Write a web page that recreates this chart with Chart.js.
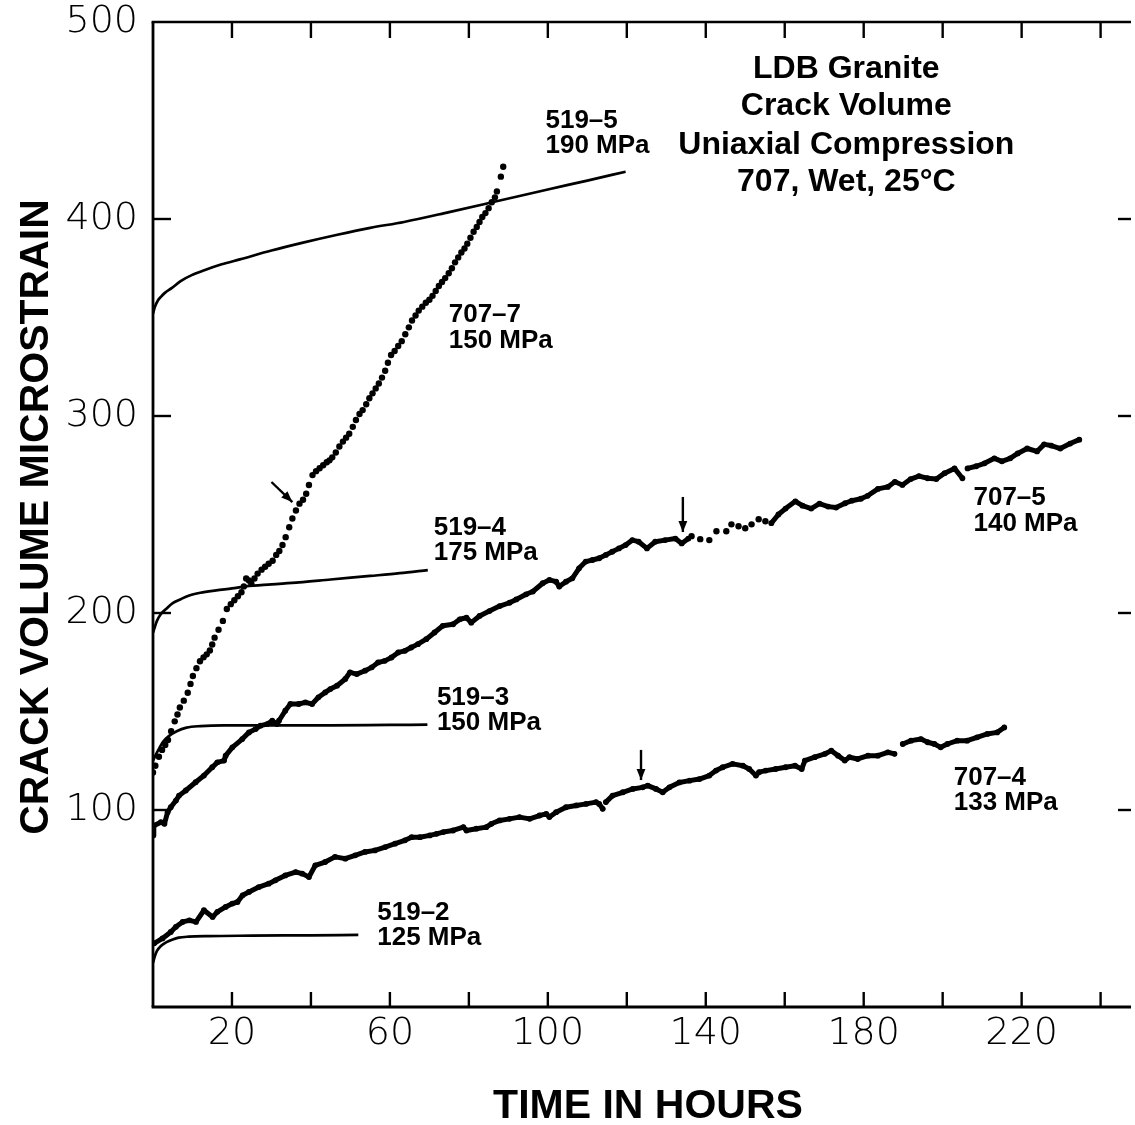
<!DOCTYPE html>
<html>
<head>
<meta charset="utf-8">
<title>LDB Granite Crack Volume</title>
<script src="https://cdn.jsdelivr.net/npm/chart.js@4.4.1/dist/chart.umd.min.js"></script>
<style>
  html, body { margin: 0; padding: 0; background: #fff; overflow: hidden; }
  canvas { display: block; }
</style>
</head>
<body>
<canvas id="chart" width="1135" height="1125"></canvas>
<script>
// ---- axes ----
const hourTicks = [20, 40, 60, 80, 100, 120, 140, 160, 180, 200, 220, 240];
const hourTickLabels = ['20', '60', '100', '140', '180', '220'];
const strainTicks = [100, 200, 300, 400, 500];

// ---- 519 series: fitted creep curves (hours, microstrain) ----
const s5195Hours  = [0, 0.5, 1.2, 2, 3, 4.8, 7, 9.8, 13, 17.4, 22, 30, 38, 46.7, 55, 63.6, 75, 87, 100, 110, 119.7];
const s5195Strain = [352, 355.5, 358.5, 360.5, 362.5, 365, 368.5, 371.5, 374, 377, 379.5, 384, 388, 392, 395.5, 398.5, 403.5, 409, 415, 419.5, 424];

const s5194Hours  = [0, 0.4, 1, 2, 3.3, 5, 7, 9, 12, 16, 20, 23.5, 30, 37, 45, 55, 62.5, 69.6];
const s5194Strain = [190, 192.5, 196, 199.5, 202, 205, 207, 208.8, 210.3, 211.5, 212.5, 213.5, 214.5, 215.5, 217, 218.8, 220.2, 221.8];

const s5193Hours  = [0, 0.7, 1.5, 2.5, 4, 6, 8.5, 12, 18, 30, 45, 60, 69.5];
const s5193Strain = [125, 128, 131, 134.5, 137.5, 140, 141.8, 142.6, 143, 143, 143, 143.2, 143.3];

const s5192Hours  = [0, 0.5, 1, 2, 3.3, 5, 6.5, 9, 14, 25, 40, 52];
const s5192Strain = [22.5, 26, 28.5, 31, 32.8, 34.3, 35.2, 35.7, 36, 36.2, 36.4, 36.6];

// ---- 707-7: individual readings ----
const s7077Hours = [0, 0.6, 1.5, 2.3, 3.1, 3.8, 4.6, 5.5, 6.2, 6.8, 7.8, 8.8, 9.5, 10.1, 11, 11.9, 12.8, 13.6, 14.4, 15,
  15.6, 16.6, 17.7, 18.7, 19.7, 20.6, 21.5, 22.4, 23, 23.6, 24.3, 24.9, 25.7, 26.5, 27.5, 28.4, 29.3, 30.3, 31.2, 32,
  32.8, 33.6, 34.5, 35.3, 36.2, 37.1, 38, 38.8, 39.5, 40.4, 41.3, 42.2, 43.1, 44, 44.7, 45.4, 46.3, 47.2, 48.1, 48.9,
  49.7, 50.6, 51.4, 52.3, 53.1, 54, 54.8, 55.6, 56.4, 57.2, 58, 58.8, 59.5, 60.3, 61.2, 62.1, 63, 63.9, 64.8, 65.6,
  66.5, 67.3, 68.2, 69.1, 70, 70.8, 71.6, 72.4, 73.2, 74, 74.9, 75.7, 76.5, 77.3, 78.1, 78.9, 79.6, 80.4, 81.2, 82,
  82.7, 83.4, 84.2, 85, 85.8, 86.6, 87.1, 88.1, 88.7];
const s7077Strain = [119, 122.5, 127, 130.5, 133, 135.5, 140, 145, 148.5, 152, 155.5, 159.5, 164, 168, 172, 175.5, 177.5, 179, 181, 184,
  187.5, 191.5, 196, 202, 204.5, 206.5, 208.5, 210.5, 213.5, 217.5, 216.5, 215, 217.5, 220, 222, 223.5, 225, 226.5, 229.5, 231.5,
  234.5, 238.5, 243.5, 248, 252, 255.5, 257.5, 260.5, 265, 270, 272, 273.5, 275, 276.5, 277.5, 279, 281.5, 284.5, 287, 289,
  291, 294.5, 298, 301, 303, 306, 309, 311.5, 314, 316.5, 319.5, 323, 327, 331, 333, 335.5, 338, 341.5, 345, 348.5,
  351, 353.5, 355.5, 357.5, 359, 361, 363.5, 366, 368, 370, 372.5, 375, 378, 380.5, 383, 385, 387.5, 390.5, 393.5, 396,
  398.5, 401, 403, 405.5, 408.5, 411, 414, 421.5, 426.5];

// ---- 707-5: continuous record, beaded stretch, continuous record ----
const s7075aHours = [0, 0.2, 2, 2.9, 3.7, 4.5, 5.8, 6.6, 8.3, 10.8, 12.9, 15, 16.3, 18, 18.4, 20.1, 22.6, 24.3, 26, 27.2,
  28.9, 30.2, 31.4, 31.9, 33.5, 34.8, 36.9, 38.6, 40.3, 41.9, 43.6, 44.9, 46.6, 48.7, 49.9, 51.6, 53.7, 55.4, 57, 58.7,
  60.4, 62.1, 63.8, 65.4, 67.1, 69.2, 71.3, 73.4, 76, 77.7, 79.4, 80.6, 82.7, 85.2, 87.8, 90.3, 92, 94.5, 96.2, 98.7,
  100.4, 102.1, 102.9, 104.6, 106.2, 107.9, 109.6, 111.3, 113, 114.7, 116.3, 118, 119.7, 121.4, 123, 125.1, 127.2, 129.7, 132.3, 133.9, 135.6];
const s7075aStrain = [87, 92, 93.8, 93, 98.9, 101.4, 104.8, 107.3, 109.9, 114.1, 117.5, 121.7, 124.2, 125.1, 127.6, 131.8, 136, 139.4, 141.1, 142.8,
  143.6, 145.3, 143.6, 145.3, 150.4, 153.8, 153.8, 154.6, 153.8, 157.2, 159.7, 161.4, 163.1, 166.5, 169.9, 169, 170.7, 172.4, 174.9, 175.7,
  177.4, 180, 180.8, 182.5, 184.2, 186.7, 190.1, 193.5, 194.3, 196.8, 197.6, 195.1, 198.5, 201, 203.5, 205.2, 206.9, 209.5, 210.9, 215.1,
  216.8, 215.9, 213.4, 215.9, 217.6, 222.7, 226.1, 226.9, 227.8, 229.5, 231.1, 232.8, 234.5, 237, 236.2, 232.8, 236.2, 237, 237.8, 235.3, 237.8];
const s7075bHours  = [136.4, 138.6, 140.9, 142.7, 145.2, 146.5, 148.3, 150, 151.6, 153.4, 155.1];
const s7075bStrain = [239, 237.5, 237, 241.5, 241.5, 245, 244, 243, 245, 247.6, 246.6];
const s7075cHours  = [156.6, 158.4, 160.2, 162.7, 164.5, 166.7, 168.8, 171, 173, 175.3, 177, 179.3, 181, 183.6, 186.1, 187.9, 189.8, 191.9, 194,
  196.2, 198.4, 200.5, 203, 205, 205.6, 206.3, 208.5, 210.6, 213.1, 215, 217.1, 219, 221.4, 223.9, 225.7, 227.5, 229.8, 232.3, 234.6];
const s7075cStrain = [245.6, 250, 253, 256.7, 254.5, 253, 255.5, 254, 253.5, 255.7, 257, 258, 259.5, 263, 264, 266.6, 265, 268, 269.5,
  268.4, 268, 271, 273.4, 268.4, null, 273.4, 274.5, 276, 278.5, 277, 278.5, 281, 283.5, 282, 285.6, 285, 283.5, 286, 288];

// ---- 707-4: continuous record ----
const s7074Hours = [0.3, 2.4, 4.5, 5.8, 7.5, 9.2, 10.9, 12.9, 15.1, 16.3, 18.4, 20.1, 21.4, 22.7, 24.3, 26.8, 29.3, 31, 33.5, 36.1,
  37.8, 39.5, 41.1, 43.6, 46.1, 48.7, 51.2, 53.7, 56.2, 58.8, 61.3, 63.8, 65.5, 67.6, 70.1, 71.8, 73.5, 76, 78.6, 79.4,
  81.9, 84.4, 85.7, 87.8, 90.3, 92.8, 95.4, 97.9, 99.6, 100.4, 102.1, 104.6, 107.2, 109.7, 112.2, 113, 113.9, 114.3, 114.7, 116.4,
  119, 121.5, 124, 125.3, 127.4, 129.1, 130.8, 133.3, 135.9, 138.4, 140.9, 142.6, 144.3, 146.8, 149.4, 151, 152.7, 153.5, 155.2, 157.7,
  160.2, 162.6, 164.3, 165.1, 167.6, 170.2, 171.8, 173.5, 175.2, 176.4, 178.5, 181.1, 183.6, 186.1, 187.8, 188.8, 189.9, 192, 194.5, 196.2,
  197.9, 199.5, 201.2, 203.7, 206.2, 208.7, 211.3, 213.8, 215.6];
const s7074Strain = [32.3, 34.8, 38.1, 40.7, 43.2, 44, 43.2, 49.1, 45.7, 48.3, 50.8, 52.5, 53.3, 56.7, 58.4, 60.9, 62.6, 64.3, 66.8, 68.5,
  67.7, 66, 71.9, 73.6, 76.2, 75.3, 77, 78.7, 79.5, 81.2, 82.9, 84.6, 86.2, 86.2, 87.1, 87.9, 88.8, 89.6, 91.3, 89.6,
  90.5, 91.3, 93, 94.7, 95.5, 96.4, 95.5, 97.2, 98, 96.4, 98.9, 101.4, 102.3, 103.1, 104, 103.1, 100.6, null, 104, 107.3,
  109, 110.7, 111.5, 112.4, 110.7, 109, 111.5, 114, 114.9, 115.7, 117.5, 120, 121.7, 123.4, 122.5, 120.8, 117.5, 119.2, 120, 120.8,
  121.7, 122.5, 120.8, 125.1, 126.8, 128.5, 130.1, 127.6, 125.1, 126.8, 125.9, 127.6, 127.6, 129.3, 128.5, null, 133.5, 135.2, 136, 134.4,
  133.5, 131.8, 133.5, 135.2, 135.2, 136.9, 138.6, 139.4, 141.9];

// ---- text placed in data units (hours, microstrain) ----
const seriesLabels = [
  { lines: ['519–5', '190 MPa'], hour: 99.4,  strain: 446.2 },
  { lines: ['707–7', '150 MPa'], hour: 74.9,  strain: 347.7 },
  { lines: ['519–4', '175 MPa'], hour: 71.1,  strain: 239.6 },
  { lines: ['519–3', '150 MPa'], hour: 71.9,  strain: 153.3 },
  { lines: ['519–2', '125 MPa'], hour: 56.8,  strain: 44.2 },
  { lines: ['707–5', '140 MPa'], hour: 207.8, strain: 254.8 },
  { lines: ['707–4', '133 MPa'], hour: 202.8, strain: 112.7 }
];
const titleLines = ['LDB Granite', 'Crack Volume', 'Uniaxial Compression', '707, Wet, 25°C'];
const titleStrain = [471.6, 452.8, 433.0, 414.2];
// arrows: [fromHour, fromStrain, toHour, toStrain]
const arrows = [
  [30.0, 266.5, 35.3, 256.3],
  [134.2, 258.9, 134.2, 241.1],
  [123.6, 130.5, 123.6, 115.2]
];

function pairs(hours, strain) {
  return hours.map((h, i) => ({ x: h, y: strain[i] }));
}

const ink = '#000';

function curve(label, hours, strain) {
  return {
    label, data: pairs(hours, strain), showLine: true,
    borderColor: ink, borderWidth: 2.7, pointRadius: 0,
    cubicInterpolationMode: 'monotone', spanGaps: false
  };
}
function record(label, hours, strain) {
  return {
    label, data: pairs(hours, strain), showLine: true,
    borderColor: ink, backgroundColor: ink, borderWidth: 5,
    borderJoinStyle: 'round', borderCapStyle: 'round',
    pointRadius: 2.9, pointBorderWidth: 0, pointBackgroundColor: ink,
    tension: 0, spanGaps: false
  };
}
function beads(label, hours, strain) {
  return {
    label, data: pairs(hours, strain), showLine: false,
    pointRadius: 3.2, pointBorderWidth: 0,
    pointBackgroundColor: ink, backgroundColor: ink, borderColor: ink
  };
}

const decorations = {
  id: 'decorations',
  beforeDraw(chart) {
    const { ctx, width, height } = chart;
    ctx.save();
    ctx.fillStyle = '#fff';
    ctx.fillRect(0, 0, width, height);
    ctx.restore();
  },
  afterDraw(chart) {
    const { ctx, chartArea: a, scales: { x, y } } = chart;
    const seg = (x0, y0, x1, y1) => { ctx.beginPath(); ctx.moveTo(x0, y0); ctx.lineTo(x1, y1); ctx.stroke(); };
    ctx.save();
    ctx.strokeStyle = ink;
    ctx.fillStyle = ink;
    ctx.lineCap = 'butt';

    // frame: left, bottom, top
    ctx.lineWidth = 2.8;
    seg(a.left, a.top, a.left, a.bottom);
    seg(a.left - 1.4, a.bottom, a.right, a.bottom);
    ctx.lineWidth = 2.6;
    seg(a.left - 1.4, a.top, a.right, a.top);

    // inward tick marks
    ctx.lineWidth = 2.4;
    hourTicks.forEach(h => {
      const px = x.getPixelForValue(h);
      seg(px, a.bottom, px, a.bottom - 15);
      seg(px, a.top, px, a.top + 16);
    });
    strainTicks.filter(v => v < 500).forEach(v => {
      const py = y.getPixelForValue(v);
      seg(a.left, py, a.left + 18, py);
      seg(a.right, py, a.right - 13, py);
    });

    // axis titles
    ctx.font = "bold 41px 'Liberation Sans', Arial, sans-serif";
    ctx.textAlign = 'center';
    ctx.textBaseline = 'alphabetic';
    ctx.save();
    ctx.translate(48, 517);
    ctx.rotate(-Math.PI / 2);
    ctx.fillText('CRACK VOLUME MICROSTRAIN', 0, 0);
    ctx.restore();
    ctx.fillText('TIME IN HOURS', 648, 1118);

    // title block
    ctx.font = "bold 32px 'Liberation Sans', Arial, sans-serif";
    const tx = x.getPixelForValue(175.6);
    titleLines.forEach((t, i) => ctx.fillText(t, tx, y.getPixelForValue(titleStrain[i])));

    // series labels
    ctx.font = "bold 26px 'Liberation Sans', Arial, sans-serif";
    ctx.textAlign = 'left';
    seriesLabels.forEach(l => {
      const px = x.getPixelForValue(l.hour);
      const py = y.getPixelForValue(l.strain);
      l.lines.forEach((t, i) => ctx.fillText(t, px, py + i * 25.5));
    });

    // arrows
    ctx.lineWidth = 2.4;
    arrows.forEach(([h0, s0, h1, s1]) => {
      const x0 = x.getPixelForValue(h0), y0 = y.getPixelForValue(s0);
      const x1 = x.getPixelForValue(h1), y1 = y.getPixelForValue(s1);
      seg(x0, y0, x1, y1);
      const ang = Math.atan2(y1 - y0, x1 - x0), L = 12, w = 0.38;
      ctx.beginPath();
      ctx.moveTo(x1 - L * Math.cos(ang - w), y1 - L * Math.sin(ang - w));
      ctx.lineTo(x1, y1);
      ctx.lineTo(x1 - L * Math.cos(ang + w), y1 - L * Math.sin(ang + w));
      ctx.closePath();
      ctx.fill();
    });
    ctx.restore();
  }
};

new Chart(document.getElementById('chart'), {
  type: 'scatter',
  data: {
    datasets: [
      curve('519-5', s5195Hours, s5195Strain),
      curve('519-4', s5194Hours, s5194Strain),
      curve('519-3', s5193Hours, s5193Strain),
      curve('519-2', s5192Hours, s5192Strain),
      beads('707-7', s7077Hours, s7077Strain),
      record('707-5', s7075aHours, s7075aStrain),
      beads('707-5 beaded', s7075bHours, s7075bStrain),
      record('707-5 late', s7075cHours, s7075cStrain),
      record('707-4', s7074Hours, s7074Strain)
    ]
  },
  options: {
    responsive: false,
    animation: false,
    devicePixelRatio: 1,
    layout: { padding: { top: 0, left: 0, right: 0, bottom: 0 } },
    plugins: { legend: { display: false }, tooltip: { enabled: false } },
    scales: {
      x: {
        type: 'linear', min: 0, max: 247.7,
        afterFit: s => { s.height = 118; s.paddingLeft = 0; s.paddingRight = 0; },
        grid: { display: false, drawTicks: false },
        border: { display: false },
        ticks: {
          stepSize: 20, includeBounds: false, autoSkip: false, maxRotation: 0,
          padding: 4, color: ink,
          font: { family: "'DejaVu Sans', sans-serif", size: 38, weight: 200 },
          callback: v => hourTickLabels.includes(String(v)) ? String(v) : ''
        }
      },
      y: {
        type: 'linear', min: 0, max: 500,
        afterFit: s => { s.width = 153; s.paddingTop = 22; s.paddingBottom = 0; },
        grid: { display: false, drawTicks: false },
        border: { display: false },
        ticks: {
          stepSize: 100, autoSkip: false, padding: 15, color: ink,
          font: { family: "'DejaVu Sans', sans-serif", size: 38, weight: 200 },
          callback: v => strainTicks.includes(v) ? String(v) : ''
        }
      }
    }
  },
  plugins: [decorations]
});
</script>
</body>
</html>
